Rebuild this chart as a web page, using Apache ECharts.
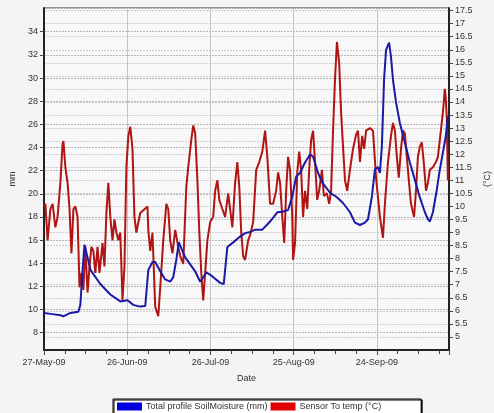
<!DOCTYPE html>
<html>
<head>
<meta charset="utf-8">
<script src="https://cdn.jsdelivr.net/npm/echarts@6/dist/echarts.min.js"></script>
<style>
html, body { margin: 0; padding: 0; background: #f4f4f4; }
#chart { width: 494px; height: 413px; }
</style>
</head>
<body>
<div id="chart"></div>
<script>
// x tick labels, one every 30 days from 27-May-09
var dateLabels = ['27-May-09', '26-Jun-09', '26-Jul-09', '25-Aug-09', '24-Sep-09'];
// left axis tick values (mm)
var mmTicks = [8, 10, 12, 14, 16, 18, 20, 22, 24, 26, 28, 30, 32, 34];

// Total profile SoilMoisture (mm), day offset from 27-May-09
var soilDays = [0, 3, 6, 7, 9.5, 12.4, 13.1, 13.9, 14.6, 16.8, 20.3, 23.9, 27.5, 30.1, 32.2, 34.6, 36.5,
    37.6, 39.1, 40.1, 41.9, 43.7, 45.5, 46.6, 47.7, 48.6, 50.9, 54.5, 56.3, 58.5, 60.5, 63.5, 64.8,
    66.1, 68.2, 70.7, 72.5, 74.3, 76.2, 78.7, 81.5, 84.1, 85.9, 88, 89.5, 90.9, 92.3, 94.1, 95.9, 97,
    98.8, 100.2, 103.1, 105.6, 107.8, 110.3, 112.1, 113.9, 115.7, 116.8, 118.2, 119.3, 120.4, 121.1,
    121.8, 122.6, 123.3, 124.4, 125.1, 125.8, 126.9, 128.3, 130.1, 131.9, 133.7, 135.4, 137.3, 138.4,
    139.1, 140.2, 141.6, 142.7, 143.8, 144.8, 145.6];
var soilMm = [9.7, 9.6, 9.5, 9.4, 9.7, 9.8, 10.4, 13.4, 15.6, 13.4, 12.2, 11.3, 10.7, 10.8, 10.4, 10.25, 10.3,
    13.4, 14.1, 14.1, 13.3, 12.6, 12.4, 12.8, 14.3, 15.8, 14.5, 13.3, 12.4, 13.2, 12.9, 12.3, 12.2,
    15.4, 15.8, 16.3, 16.6, 16.7, 16.9, 16.9, 17.6, 18.4, 18.45, 18.6, 19.75, 21.5, 21.8, 22.7, 23.4, 23.2,
    21.8, 21.0, 20.1, 19.7, 19.2, 18.4, 17.5, 17.3, 17.5, 17.8, 19.75, 22.1, 22.3, 21.8,
    24.1, 29.9, 32.4, 33.05, 31.8, 29.85, 27.9, 26.1, 24.4, 22.7, 21.2, 19.75, 18.4, 17.8,
    17.6, 18.4, 20.35, 22.1, 23.55, 24.9, 26.7];

// Sensor To temp (°C), day offset from 27-May-09
var tempDays = [0, 0.5, 1.3, 2.3, 3.1, 4.1, 4.9, 5.9, 6.7, 7, 7.7, 8.5, 9.2, 9.9, 10.6, 11.3, 12.1, 12.8,
    13.5, 14.2, 14.9, 15.7, 16.4, 17.1, 17.8, 18.5, 19.3, 20, 21.1, 21.8, 22.5, 23.2, 23.9, 24.7, 25.4,
    26.1, 26.8, 27.5, 28.3, 29, 29.7, 30.4, 31.1, 31.9, 32.6, 33.3, 34, 34.7, 37.3, 37.6, 38.3, 39.1,
    40.1, 41.2, 41.9, 43, 44.1, 44.8, 45.5, 46.3, 47.3, 48.4, 49.1, 50.2, 51.3, 52, 53.1, 53.8, 54.5,
    55.3, 56, 56.7, 57.4, 58.1, 58.9, 59.9, 61, 61.7, 62.5, 63.2, 64.3, 65.3, 66.4, 67.1, 67.9, 68.9,
    69.7, 70.4, 71.1, 71.8, 72.5, 73.6, 74.3, 75.4, 76.5, 77.6, 78.7, 79.7, 80.5, 81.5, 82.6, 83.7,
    84.4, 85.1, 85.9, 86.6, 87.3, 88, 88.7, 89.5, 89.8, 90.5, 91.3, 92, 92.7, 93.4, 94.1, 94.9, 95.6,
    96.3, 97, 97.7, 98.5, 99.2, 100.2, 100.9, 102, 102.8, 103.5, 104.2, 104.9, 105.6, 106.4, 107.1,
    107.8, 108.5, 109.3, 110.3, 111.4, 112.5, 113.2, 113.9, 114.7, 115.4, 116.1, 116.8, 117.5, 118.6,
    119.7, 121.1, 122.2, 122.9, 124, 125.1, 125.8, 126.5, 127.2, 127.9, 128.7, 129.4, 130.1, 130.8,
    131.6, 132.3, 133.4, 134.1, 134.8, 135.5, 136.2, 136.9, 137.7, 138.4, 139.1, 140.2, 141.3, 142,
    142.7, 143.8, 144.5, 144.8, 145.2, 145.6];
var tempC = [10.0, 10.1, 8.7, 9.9, 10.1, 9.2, 9.6, 10.9, 12.4, 12.5, 11.5, 10.9, 9.9, 8.2, 9.9, 10.0, 9.6, 6.9,
    7.45, 6.8, 8.45, 6.7, 7.7, 8.45, 8.3, 7.45, 8.45, 7.45, 8.6, 7.7, 9.75, 10.9, 9.6, 8.7, 9.5,
    9.0, 8.7, 9.0, 6.4, 7.7, 11.5, 12.7, 13.05, 12.2, 9.6, 9.0, 9.0, 9.75, 10.0, 9.1, 8.3, 9.0,
    6.15, 5.8, 6.9, 8.7, 10.1, 9.9, 8.7, 8.2, 9.1, 8.45, 8.1, 7.8, 10.75, 11.5, 12.55, 13.1, 12.8,
    11.0, 9.0, 7.45, 6.4, 7.45, 8.7, 9.4, 9.6, 10.6, 11.0, 10.25, 9.9, 9.6, 10.5, 9.9, 9.2, 10.9,
    11.7, 10.75, 9.0, 8.1, 7.95, 8.7, 8.9, 9.4, 11.4, 11.7, 12.1, 12.9, 11.9, 10.1, 10.1, 10.6,
    11.3, 10.9, 9.6, 8.6, 10.6, 11.9, 11.4, 9.6, 7.95, 8.6, 11.3, 12.1, 11.4, 9.6, 10.6, 9.9, 11.4,
    12.55, 12.9, 11.7, 10.25, 10.6, 11.4, 10.4, 10.5, 10.1, 10.6, 12.9, 14.85, 16.3, 15.5, 13.6,
    12.3, 11.0, 10.6, 11.4, 12.2, 12.75, 12.9, 11.7, 12.7, 12.2, 12.9, 12.9, 13.0, 12.9,
    11.1, 9.6, 8.8, 10.1, 11.7, 12.7, 13.2, 12.9, 11.9, 11.1, 12.2, 12.9, 12.8, 11.9,
    10.9, 10.1, 9.6, 10.6, 11.9, 12.3, 12.45, 11.7, 10.6, 10.9, 11.4, 11.5, 11.7, 11.9,
    12.55, 13.6, 14.5, 14.2, 13.4, 11.0];

var zip = function (xs, ys) {
    var res = [];
    for (var i = 0; i < xs.length; i++) {
        res.push([xs[i], ys[i]]);
    }
    return res;
};

var labelFont = 'Liberation Sans';
var myChart = echarts.init(document.getElementById('chart'));

var option = {
    backgroundColor: '#f4f4f4',
    animation: false,
    textStyle: { fontFamily: labelFont },
    grid: {
        left: 44,
        right: 45,
        top: 8,
        bottom: 63,
        outerBoundsMode: 'none',
        show: true,
        backgroundColor: '#f8f8f8',
        borderColor: '#333',
        borderWidth: 1
    },
    legend: {
        data: ['Total profile SoilMoisture (mm)', 'Sensor To temp (°C)'],
        left: 113,
        top: 399,
        icon: 'rect',
        itemWidth: 25,
        itemHeight: 8,
        itemGap: 3,
        padding: [3, 40, 6, 4],
        backgroundColor: '#fff',
        borderColor: '#000',
        borderWidth: 1,
        shadowColor: '#000',
        shadowOffsetX: 1,
        shadowOffsetY: 1,
        textStyle: { fontSize: 9, color: '#333', fontFamily: labelFont, padding: [0, 0, 0, -1] }
    },
    xAxis: {
        type: 'value',
        min: 0,
        max: 146,
        interval: 30,
        name: 'Date',
        nameLocation: 'middle',
        nameGap: 24,
        nameTextStyle: { fontSize: 9, color: '#333' },
        axisLine: { lineStyle: { color: '#222', width: 2 } },
        axisTick: { length: 5, lineStyle: { color: '#444' } },
        minorTick: { show: true, splitNumber: 4, length: 4, lineStyle: { color: '#444' } },
        axisLabel: {
            fontSize: 9,
            color: '#333',
            margin: 8,
            showMaxLabel: false,
            formatter: function (v) {
                return dateLabels[Math.round(v / 30)] || '';
            }
        },
        splitLine: { show: true, lineStyle: { color: '#c4c4c4' } }
    },
    yAxis: [
        {
            type: 'value',
            position: 'left',
            min: 6.5,
            max: 36.05,
            name: 'mm',
            nameLocation: 'middle',
            nameGap: 22,
            nameTextStyle: { fontSize: 9, color: '#333' },
            axisLine: { show: true, lineStyle: { color: '#222', width: 2 } },
            axisTick: { show: true, length: 4, customValues: mmTicks, lineStyle: { color: '#444' } },
            axisLabel: { fontSize: 9, color: '#333', margin: 6, customValues: mmTicks },
            splitLine: { show: true, lineStyle: { color: '#b8b8b8', type: [2, 1] } }
        },
        {
            type: 'value',
            position: 'right',
            min: 4.5,
            max: 17.6,
            interval: 0.5,
            name: '(°C)',
            nameLocation: 'middle',
            nameGap: 26,
            nameTextStyle: { fontSize: 9, color: '#333' },
            axisLine: { show: true, lineStyle: { color: '#222', width: 2 } },
            axisTick: { show: true, length: 4, lineStyle: { color: '#444' } },
            axisLabel: { fontSize: 9, color: '#333', margin: 6, showMinLabel: false, showMaxLabel: false },
            splitLine: { show: true, lineStyle: { color: '#cfcfcf', type: [2, 1] } }
        }
    ],
    series: [
        {
            name: 'Sensor To temp (°C)',
            type: 'line',
            yAxisIndex: 1,
            symbol: 'none',
            data: zip(tempDays, tempC),
            lineStyle: { width: 2, color: '#b01414' },
            itemStyle: { color: '#e00000' }
        },
        {
            name: 'Total profile SoilMoisture (mm)',
            type: 'line',
            yAxisIndex: 0,
            symbol: 'none',
            data: zip(soilDays, soilMm),
            lineStyle: { width: 2, color: '#1a1aa6' },
            itemStyle: { color: '#0000e0' }
        }
    ]
};

myChart.setOption(option);
</script>
</body>
</html>
